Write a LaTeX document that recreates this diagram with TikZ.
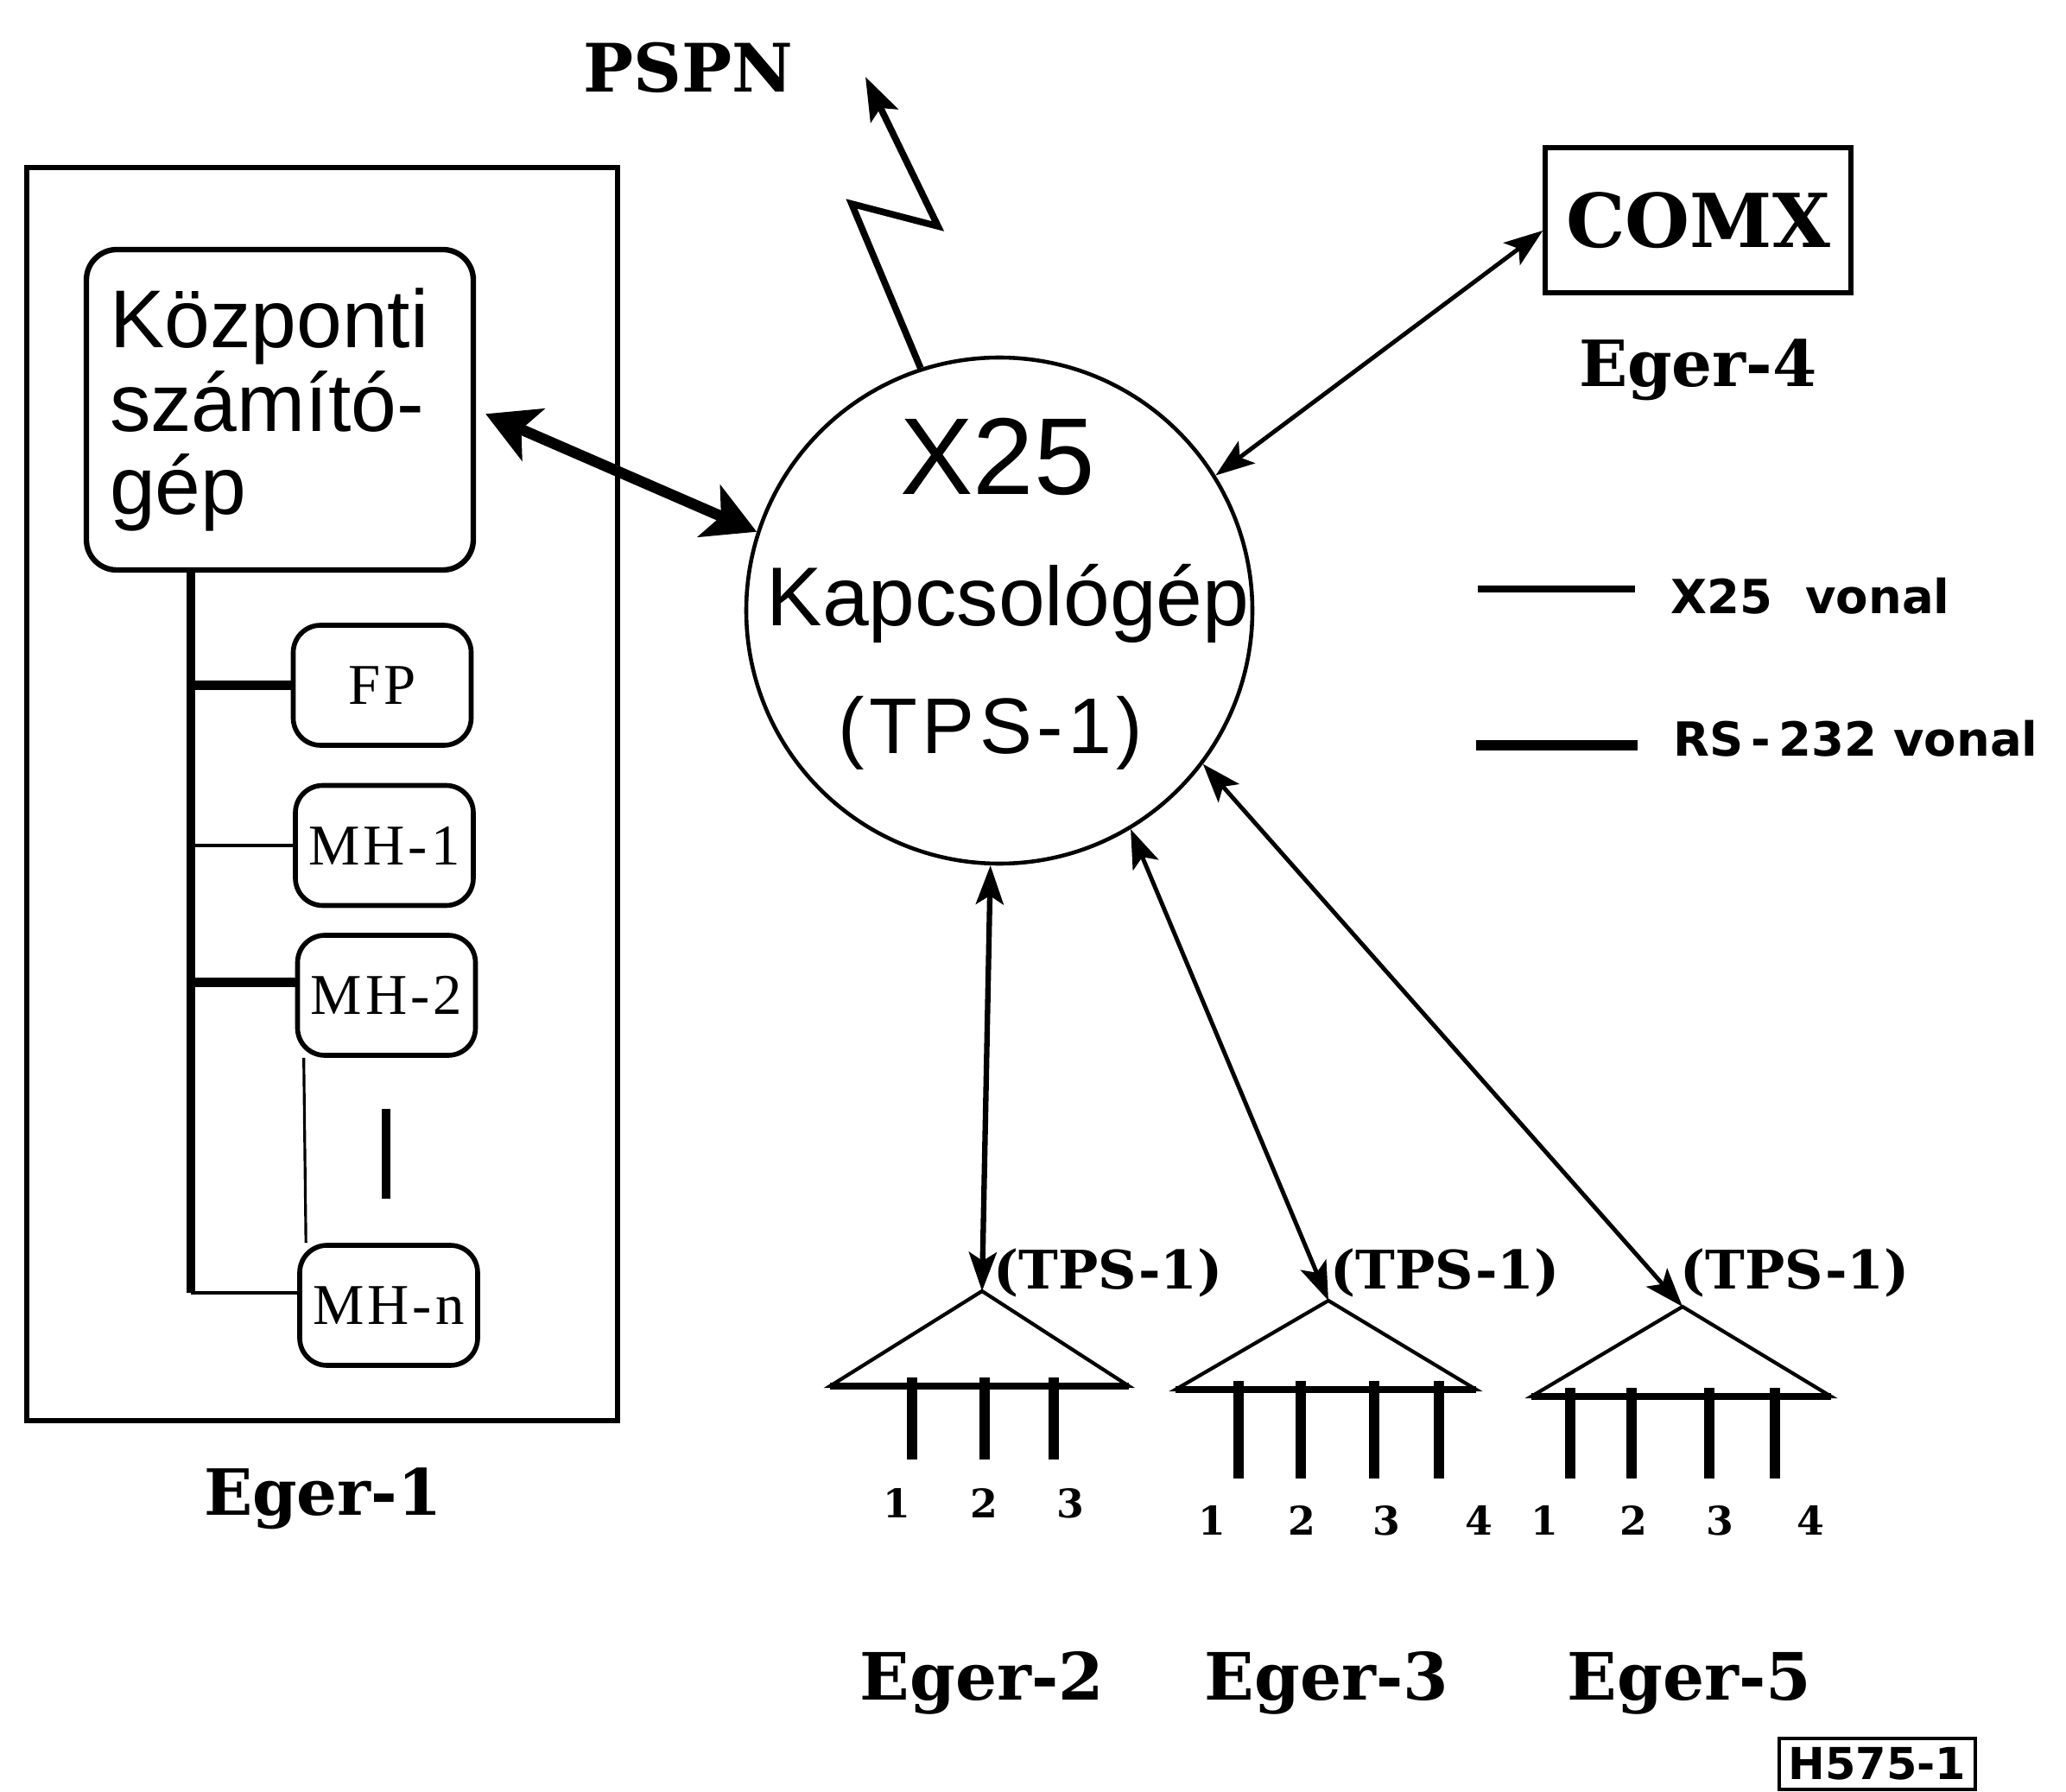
\documentclass[tikz,border=0pt]{standalone}
\usepackage{fontspec}
\setmainfont{DejaVu Serif}
\newfontfamily\helv{Liberation Sans}
\newfontfamily\helvsp{Liberation Sans}[LetterSpace=6]
\newfontfamily\tmsp{Liberation Serif}[LetterSpace=6]
\newfontfamily\legfont{DejaVu Sans}
\usetikzlibrary{arrows.meta,positioning,calc}

\begin{document}
\begin{tikzpicture}[
  >=Stealth,
  cpubox/.style={draw, line width=1.8pt, rounded corners=10pt, minimum width=4.48cm, minimum height=3.71cm, inner xsep=0.27cm, text width=3.94cm, align=left, font=\helv\fontsize{27}{27.5}\selectfont},
  hostbox/.style={draw, line width=1.6pt, rounded corners=9pt, minimum width=2.06cm, minimum height=1.39cm, inner sep=0pt, font=\tmsp\fontsize{19}{21}\selectfont},
  sitelabel/.style={font=\bfseries\fontsize{21}{24}\selectfont, anchor=base},
  termlabel/.style={font=\bfseries\fontsize{21.5}{26}\selectfont, anchor=base},
  tpslabel/.style={font=\bfseries\fontsize{17.5}{20}\selectfont, anchor=base},
  pinnum/.style={font=\bfseries\fontsize{13}{15}\selectfont, anchor=base},
  legtxt/.style={font=\legfont\bfseries\fontsize{15.5}{18}\selectfont, anchor=base west, inner sep=0pt},
  x25line/.style={line width=1.4pt},
  rsline/.style={line width=3.6pt},
  duplex/.style={{Stealth[length=4.5mm,width=3.2mm,inset=1mm]}-{Stealth[length=4.5mm,width=3.2mm,inset=1mm]}},
  bigduplex/.style={{Stealth[length=6mm,width=6.5mm,inset=1.5mm]}-{Stealth[length=6mm,width=6.5mm,inset=1.5mm]}},
  busline/.style={line width=3pt},
  stubline/.style={line width=1.4pt},
  pin/.style={line width=3.2pt},
  tri/.style={line width=1.2pt, line join=miter},
]
\useasboundingbox (0,0) rectangle (23.92,20.74);

% Eger-1
\node[draw, line width=1.8pt, minimum width=6.84cm, minimum height=14.51cm] (eger1box) at (3.73,11.545) {};
\node[cpubox] (kozp) at (3.24,15.995) {Központi\\számító-\\gép};
\node[hostbox] (fp) at (4.425,12.805) {FP};
\node[hostbox] (mh1) at (4.45,10.95) {MH-1};
\node[hostbox] (mh2) at (4.475,9.215) {MH-2};
\node[hostbox] (mhn) at (4.50,5.625) {MH-n};
\node[sitelabel] (eger1) at (3.74,3.20) {Eger-1};

\coordinate (bus) at (2.21,5.77);
\coordinate (mh2in) at ([yshift=1.5mm]mh2.west);
\draw[busline] (kozp.south -| bus) -- (bus);
\draw[busline] (bus |- fp.west) -- (fp.west);
\draw[stubline] (bus |- mh1.west) -- (mh1.west);
\draw[busline] (mh2in -| bus) -- (mh2in);
\draw[stubline] (bus) -- (bus -| mhn.west);
\draw[line width=0.9pt] ([xshift=1mm]mh2.south west) -- ([xshift=1mm]mhn.north west);
\draw[line width=3pt] (4.47,7.90) -- (4.47,6.86);

% kapcsologep
\node[circle, draw, line width=1.3pt, minimum size=5.86cm, inner sep=0pt] (x25) at (11.57,13.67) {};
\node[font=\helv\fontsize{36}{40}\selectfont, anchor=base] (x25name) at (11.55,15.01) {X25};
\node[font=\helv\fontsize{27.5}{30}\selectfont, anchor=base] (kapcs) at (11.67,13.49) {Kapcsológép};
\node[font=\helvsp\fontsize{26}{30}\selectfont, anchor=base] (tps0) at (11.47,12.01) {(TPS-1)};

\draw[rsline, bigduplex, shorten <=1.2mm] (kozp.east) -- (x25.162);

% PSPN
\node[font=\bfseries\fontsize{22}{26}\selectfont, anchor=base] (pspn) at (7.97,19.67) {PSPN};
\coordinate (zig1) at (9.86,18.38);
\coordinate (zig2) at (10.86,18.12);
\coordinate (pspnend) at (10.02,19.85);
\draw[line width=2.2pt, line join=miter, -{Stealth[length=5mm,width=3.5mm,inset=1mm]}] (x25.108) -- (zig1) -- (zig2) -- (pspnend);

% Eger-4
\node[draw, line width=1.5pt, minimum width=3.54cm, minimum height=1.68cm, font=\bfseries\fontsize{24.5}{28}\selectfont] (comx) at (19.66,18.19) {COMX};
\node[sitelabel] (eger4) at (19.66,16.26) {Eger-4};
\draw[x25line, duplex] ([yshift=-1.2mm]comx.west) -- (x25.32);

% jelmagyarazat
\node[legtxt] (legxtxt) at (19.34,13.63) {X25\ \ vonal};
\node[legtxt] (legrstxt) at (19.37,11.98) {RS\,-\,232 vonal};
\coordinate (legx) at (17.11,13.92);
\coordinate (legrs) at (17.09,12.11);
\draw[line width=2pt, shorten >=4.1mm] (legx) -- (legx -| legxtxt.west);
\draw[rsline, shorten >=4.1mm] (legrs) -- (legrs -| legrstxt.west);

% terminalok
\coordinate (t1) at (11.37,5.79);
\coordinate (t2) at (15.38,5.68);
\coordinate (t3) at (19.48,5.61);
\draw[x25line, duplex, line width=1.8pt] (x25.268) -- (t1);
\draw[x25line, duplex] (x25.301) -- (t2);
\draw[x25line, duplex] (x25.323) -- (t3);

\node[tpslabel] (tpsa) at (12.83,5.82) {(TPS-1)};
\node[tpslabel] (tpsb) at (16.73,5.82) {(TPS-1)};
\node[tpslabel] (tpsc) at (20.78,5.82) {(TPS-1)};

\draw[tri] (t1) -- (9.61,4.69) -- (13.07,4.69) -- cycle;
\draw[tri] (t2) -- (13.61,4.65) -- (17.09,4.65) -- cycle;
\draw[tri] (t3) -- (17.73,4.57) -- (21.20,4.57) -- cycle;
\draw[line width=2.4pt] (9.61,4.69) -- (13.07,4.69);
\draw[line width=2.4pt] (13.61,4.65) -- (17.09,4.65);
\draw[line width=2.4pt] (17.73,4.57) -- (21.20,4.57);

\draw[pin] (10.56,4.79) -- (10.56,3.84);
\draw[pin] (11.40,4.79) -- (11.40,3.84);
\draw[pin] (12.20,4.79) -- (12.20,3.84);
\draw[pin] (14.34,4.75) -- (14.34,3.62);
\draw[pin] (15.06,4.75) -- (15.06,3.62);
\draw[pin] (15.91,4.75) -- (15.91,3.62);
\draw[pin] (16.66,4.75) -- (16.66,3.62);
\draw[pin] (18.18,4.67) -- (18.18,3.62);
\draw[pin] (18.89,4.67) -- (18.89,3.62);
\draw[pin] (19.79,4.67) -- (19.79,3.62);
\draw[pin] (20.55,4.67) -- (20.55,3.62);

\node[pinnum] (n21) at (10.38,3.17) {1};
\node[pinnum] (n22) at (11.39,3.17) {2};
\node[pinnum] (n23) at (12.39,3.17) {3};
\node[pinnum] (n31) at (14.03,2.97) {1};
\node[pinnum] (n32) at (15.07,2.97) {2};
\node[pinnum] (n33) at (16.05,2.97) {3};
\node[pinnum] (n34) at (17.12,2.97) {4};
\node[pinnum] (n51) at (17.88,2.97) {1};
\node[pinnum] (n52) at (18.91,2.97) {2};
\node[pinnum] (n53) at (19.91,2.97) {3};
\node[pinnum] (n54) at (20.96,2.97) {4};

\node[termlabel] (eger2) at (11.37,1.06) {Eger-2};
\node[termlabel] (eger3) at (15.36,1.06) {Eger-3};
\node[termlabel] (eger5) at (19.56,1.06) {Eger-5};

\node[draw, line width=1.3pt, minimum width=2.27cm, minimum height=0.59cm, inner sep=0pt, font=\legfont\bfseries\fontsize{14.5}{16}\selectfont] (stamp) at (21.735,0.315) {H575-1};

\end{tikzpicture}
\end{document}
